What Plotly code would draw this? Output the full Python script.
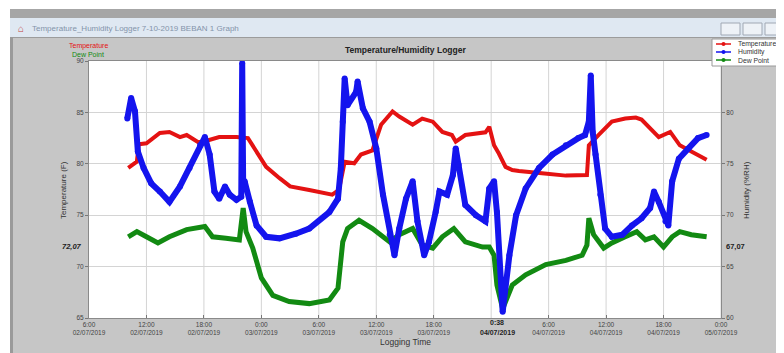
import plotly.graph_objects as go
import pandas as pd

# ---------------- data (hours after 02/07/2019 06:00) ----------------
START = "2019-07-02 06:00"

temp_hours = [4.1, 5.0, 5.2, 6.0, 7.4, 8.4, 9.5, 10.2, 11.4, 12.1, 13.6, 15.4, 16.6, 17.5, 18.5,
              19.9, 21.0, 23.0, 25.4, 26.1, 26.7, 27.7, 28.4, 29.6, 30.5, 31.7, 32.4, 33.8, 34.8,
              35.9, 36.9, 37.9, 38.3, 39.3, 41.4, 41.8, 42.3, 42.8, 43.5, 44.2, 44.9, 47.3, 49.8,
              52.0, 52.2, 53.2, 54.6, 56.0, 57.1, 57.7, 58.8, 59.5, 60.7, 61.7, 62.9, 64.5]
temp_values = [79.6, 80.2, 81.9, 82.0, 83.0, 83.1, 82.6, 82.8, 82.1, 82.2, 82.6, 82.6, 82.5, 81.2, 79.7,
               78.6, 77.8, 77.45, 77.0, 77.45, 80.2, 80.05, 80.9, 81.3, 83.8, 85.1, 84.6, 83.8, 84.4,
               84.1, 83.1, 82.8, 82.15, 82.8, 83.06, 83.6, 81.8, 81.0, 79.7, 79.4, 79.3, 79.07, 78.85,
               78.9, 81.8, 82.8, 84.1, 84.4, 84.5, 84.3, 83.3, 82.6, 83.1, 81.8, 81.2, 80.4]

hum_hours = [4.0, 4.4, 4.8, 5.1, 5.7, 6.5, 7.4, 8.4, 9.5, 10.5, 11.6, 12.1, 12.6, 13.1, 13.6, 14.2,
             14.7, 15.4, 15.9, 16.0, 16.1, 16.25, 16.8, 17.5, 18.5, 19.9, 21.6, 23.0, 25.1, 26.0,
             26.3, 26.5, 26.7, 27.0, 27.9, 28.05, 28.6, 29.3, 30.0, 30.7, 31.4, 31.9, 32.4, 33.1,
             33.8, 34.3, 35.0, 35.5, 36.2, 36.6, 37.4, 38.0, 38.3, 38.6, 39.3, 40.4, 41.4, 41.8,
             42.3, 42.6, 43.2, 43.9, 44.6, 45.6, 47.0, 48.4, 49.8, 51.1, 51.8, 52.2, 52.4, 52.6,
             52.9, 53.4, 53.9, 54.6, 55.7, 56.7, 57.7, 58.6, 59.0, 59.5, 60.2, 60.5, 60.9, 61.6,
             62.6, 63.6, 64.5]
hum_values = [79.4, 81.4, 80.1, 76.2, 74.6, 73.1, 72.3, 71.3, 72.8, 74.6, 76.8, 77.6, 75.9, 72.3, 71.6, 72.8,
              72.0, 71.5, 71.8, 84.8, 73.0, 73.3, 71.3, 69.0, 67.9, 67.75, 68.2, 68.7, 70.3, 71.6,
              74.6, 79.1, 83.3, 80.7, 82.0, 83.0, 80.4, 79.1, 76.5, 72.0, 68.1, 66.1, 68.7, 71.6,
              73.3, 69.4, 66.1, 67.4, 70.3, 72.3, 72.0, 73.9, 76.5, 74.9, 71.0, 70.0, 69.4, 72.6,
              73.3, 70.3, 60.6, 66.1, 70.0, 72.6, 74.6, 75.9, 76.8, 77.5, 77.8, 79.1, 83.6, 78.1,
              75.9, 72.0, 68.7, 67.9, 68.1, 69.0, 69.7, 70.7, 72.3, 71.3, 69.4, 69.0, 73.3, 75.5,
              76.5, 77.5, 77.8]

dew_hours = [4.1, 5.0, 6.0, 7.2, 8.4, 10.2, 12.1, 12.9, 14.3, 15.7, 16.1, 16.4, 17.1, 18.0, 19.2,
             20.9, 23.0, 25.1, 26.0, 26.5, 27.0, 28.2, 29.6, 31.4, 32.4, 33.8, 34.8, 35.9, 36.9,
             38.1, 39.3, 41.1, 41.8, 42.3, 42.6, 43.2, 44.2, 45.6, 47.7, 49.8, 51.5, 52.0, 52.2,
             52.7, 53.75, 54.6, 56.0, 57.2, 58.1, 59.0, 60.0, 60.9, 61.7, 62.9, 64.5]
dew_values = [72.9, 73.4, 72.9, 72.3, 72.9, 73.6, 73.9, 72.9, 72.75, 72.6, 75.7, 73.4, 71.8, 68.9, 67.2,
              66.6, 66.4, 66.75, 67.9, 72.4, 73.7, 74.5, 73.7, 72.4, 73.1, 73.7, 72.1, 71.8, 72.9,
              73.7, 72.4, 71.9, 71.9, 71.1, 68.2, 65.9, 68.2, 69.2, 70.2, 70.6, 71.1, 72.1, 74.7,
              73.1, 71.8, 72.3, 72.9, 73.4, 72.6, 72.9, 71.9, 72.9, 73.4, 73.1, 72.9]

tick_times = ["2019-07-02 06:00", "2019-07-02 12:00", "2019-07-02 18:00", "2019-07-03 00:00",
              "2019-07-03 06:00", "2019-07-03 12:00", "2019-07-03 18:00",
              "2019-07-04 06:00", "2019-07-04 12:00", "2019-07-04 18:00", "2019-07-05 00:00"]
tick_labels = ["6:00<br>02/07/2019", "12:00<br>02/07/2019", "18:00<br>02/07/2019", "0:00<br>03/07/2019",
               "6:00<br>03/07/2019", "12:00<br>03/07/2019", "18:00<br>03/07/2019",
               "6:00<br>04/07/2019", "12:00<br>04/07/2019", "18:00<br>04/07/2019", "0:00<br>05/07/2019"]
grid_times = tick_times + ["2019-07-04 00:00"]
cursor_time = "2019-07-04 00:38"

# ---------------- helpers (page has an 8px body margin) ----------------
OFF = 8
SW, SH = 784, 353                 # screen size
PL, PR, PT, PB = 89, 721, 61, 318  # plot area in screen pixels
W, H = SW - OFF, SH - OFF
PW, PH = PR - PL, PB - PT


def fx(px):
    return (px - PL) / PW


def fy(py):
    return (PB - py) / PH


base = pd.Timestamp(START)


def to_time(hours):
    return [base + pd.Timedelta(hours=h) for h in hours]


RED, BLUE, GREEN = "#e41212", "#1414ee", "#128a12"
FONT = "Liberation Sans, Arial, sans-serif"

fig = go.Figure()
fig.add_trace(go.Scatter(x=to_time(temp_hours), y=temp_values, mode="lines",
                         line=dict(color=RED, width=4), name="Temperature", yaxis="y"))
fig.add_trace(go.Scatter(x=to_time(dew_hours), y=dew_values, mode="lines",
                         line=dict(color=GREEN, width=5), name="Dew Point", yaxis="y"))
fig.add_trace(go.Scatter(x=to_time(hum_hours), y=hum_values, mode="lines+markers",
                         line=dict(color=BLUE, width=6), marker=dict(color=BLUE, size=6),
                         name="Humidity", yaxis="y2"))

shapes = []
# window chrome
shapes.append(dict(type="rect", xref="paper", yref="paper", x0=fx(0), x1=fx(SW), y0=fy(0), y1=fy(9),
                   fillcolor="white", line_width=0, layer="below"))
shapes.append(dict(type="rect", xref="paper", yref="paper", x0=fx(0), x1=fx(10), y0=fy(0), y1=fy(SH),
                   fillcolor="white", line_width=0, layer="below"))
shapes.append(dict(type="rect", xref="paper", yref="paper", x0=fx(10), x1=fx(SW), y0=fy(9), y1=fy(18),
                   fillcolor="#a6a6a6", line_width=0, layer="below"))
shapes.append(dict(type="rect", xref="paper", yref="paper", x0=fx(10), x1=fx(SW), y0=fy(18), y1=fy(37),
                   fillcolor="#dfe8f2", line_width=0, layer="below"))
shapes.append(dict(type="rect", xref="paper", yref="paper", x0=fx(10), x1=fx(SW), y0=fy(37), y1=fy(38),
                   fillcolor="#9c9c9c", line_width=0, layer="below"))
shapes.append(dict(type="rect", xref="paper", yref="paper", x0=fx(10), x1=fx(13), y0=fy(37), y1=fy(SH),
                   fillcolor="#9a9a9a", line_width=0, layer="below"))
# window buttons
for bx in (721, 743, 765):
    shapes.append(dict(type="rect", xref="paper", yref="paper", x0=fx(bx), x1=fx(bx + 19),
                       y0=fy(23), y1=fy(35), fillcolor="#eef2f7", line=dict(color="#a0a8b4", width=1)))
# legend box
shapes.append(dict(type="rect", xref="paper", yref="paper", x0=fx(712), x1=fx(790), y0=fy(39), y1=fy(66),
                   fillcolor="white", line=dict(color="#9a9a9a", width=1)))
for yy, col in ((44, RED), (52, BLUE), (60, GREEN)):
    shapes.append(dict(type="line", xref="paper", yref="paper", x0=fx(716), x1=fx(731), y0=fy(yy), y1=fy(yy),
                       line=dict(color=col, width=1.5)))
    shapes.append(dict(type="circle", xref="paper", yref="paper", x0=fx(721.5), x1=fx(725.5),
                       y0=fy(yy - 2), y1=fy(yy + 2), fillcolor=col, line_width=0))

annotations = [
    dict(text="Temperature_Humidity Logger 7-10-2019 BEBAN 1 Graph", x=fx(30), y=fy(28.5),
         xanchor="left", yanchor="middle", font=dict(size=8, color="#8494aa", family=FONT)),
    dict(text="⌂", x=fx(21), y=fy(28.5), xanchor="center", yanchor="middle",
         font=dict(size=10, color="#c04040", family=FONT)),
    dict(text="<b>Temperature/Humidity Logger</b>", x=fx(405), y=fy(50), xanchor="center", yanchor="middle",
         font=dict(size=8.5, color="#222", family=FONT), ),
    dict(text="Temperature", x=fx(88), y=fy(46), xanchor="center", yanchor="middle",
         font=dict(size=7, color=RED, family=FONT)),
    dict(text="Dew Point", x=fx(88), y=fy(54), xanchor="center", yanchor="middle",
         font=dict(size=7, color=GREEN, family=FONT)),
    dict(text="Temperature (F)", x=fx(63), y=fy(190), xanchor="center", yanchor="middle", textangle=-90,
         font=dict(size=8, color="#333", family=FONT)),
    dict(text="Humidity (%RH)", x=fx(746), y=fy(190), xanchor="center", yanchor="middle", textangle=-90,
         font=dict(size=8, color="#333", family=FONT)),
    dict(text="Logging Time", x=fx(405), y=fy(342), xanchor="center", yanchor="middle",
         font=dict(size=8.5, color="#333", family=FONT)),
    dict(text="<b><i>72,07</i></b>", x=fx(72), y=fy(246), xanchor="center", yanchor="middle",
         font=dict(size=7.5, color="#222", family=FONT)),
    dict(text="<b>67,07</b>", x=fx(736), y=fy(246), xanchor="center", yanchor="middle",
         font=dict(size=7.5, color="#222", family=FONT)),
    dict(text="<b>0:38</b>", x=cursor_time, xref="x", y=fy(322.5), xanchor="center", yanchor="middle",
         font=dict(size=7, color="#222", family=FONT)),
    dict(text="<b>04/07/2019</b>", x=cursor_time, xref="x", y=fy(332.5), xanchor="center", yanchor="middle",
         font=dict(size=7, color="#222", family=FONT)),
    dict(text="Temperature", x=fx(736), y=fy(44), xanchor="left", yanchor="middle",
         font=dict(size=6.8, color="#333", family=FONT)),
    dict(text="Humidity", x=fx(736), y=fy(52), xanchor="left", yanchor="middle",
         font=dict(size=6.8, color="#333", family=FONT)),
    dict(text="Dew Point", x=fx(736), y=fy(60), xanchor="left", yanchor="middle",
         font=dict(size=6.8, color="#333", family=FONT)),
]
for a in annotations:
    a.setdefault("xref", "paper")
    a.setdefault("yref", "paper")
    a["showarrow"] = False

# vertical grid lines (incl. 0:00 04/07 which has no label)
for gt in grid_times[1:]:
    shapes.append(dict(type="line", xref="x", yref="paper", x0=gt, x1=gt, y0=0, y1=1,
                       line=dict(color="#d4d4d4", width=1), layer="below"))

fig.update_layout(
    width=W, height=H,
    margin=dict(l=PL - OFF, r=SW - PR, t=PT - OFF, b=SH - PB, autoexpand=False),
    paper_bgcolor="#c6c6c6",
    plot_bgcolor="white",
    showlegend=False,
    font=dict(family=FONT, size=7, color="#333"),
    shapes=shapes,
    annotations=annotations,
    xaxis=dict(type="date", range=["2019-07-02 06:00", "2019-07-05 00:00"],
               tickvals=tick_times, ticktext=tick_labels, tickangle=0,
               showgrid=False, ticks="inside", ticklen=3, tickcolor="#777",
               showline=True, linecolor="#8a8a8a", mirror=True,
               tickfont=dict(size=6.5, color="#444")),
    yaxis=dict(range=[65, 90], tickvals=[65, 70, 75, 80, 85, 90], showgrid=True, gridcolor="#d4d4d4",
               ticks="outside", ticklen=3, tickcolor="#777", zeroline=False,
               showline=True, linecolor="#8a8a8a", mirror=True,
               tickfont=dict(size=6.5, color="#444")),
    yaxis2=dict(range=[60, 85], tickvals=[60, 65, 70, 75, 80], overlaying="y", side="right",
                showgrid=False, zeroline=False, ticks="outside", ticklen=3, tickcolor="#777",
                tickfont=dict(size=6.5, color="#444")),
)

fig.write_html("out.html")
